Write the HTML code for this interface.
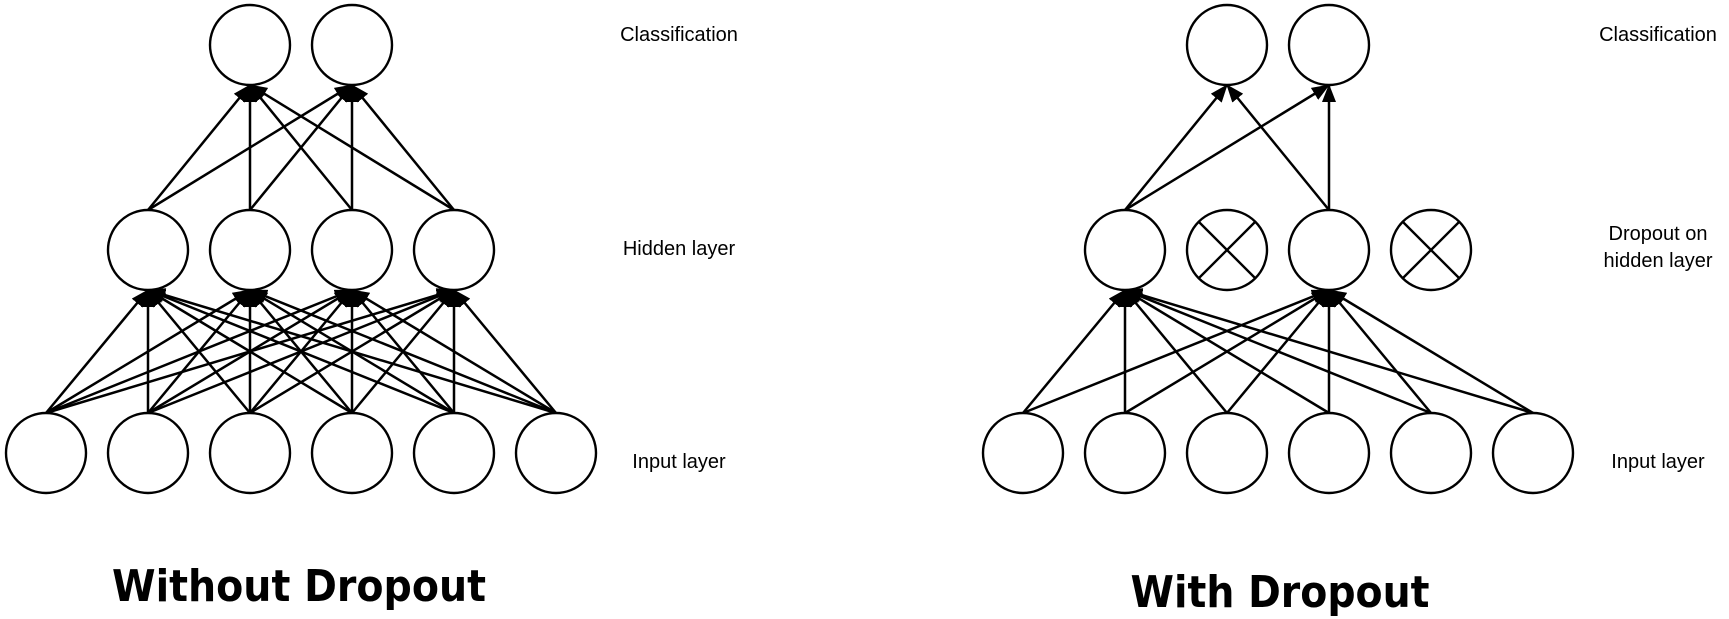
<!DOCTYPE html>
<html><head><meta charset="utf-8"><style>
html,body{margin:0;padding:0;background:#fff;}
svg{display:block;}
</style></head><body>
<svg width="1729" height="619" viewBox="0 0 1729 619" xmlns="http://www.w3.org/2000/svg">
<defs>
<marker id="a" markerWidth="18" markerHeight="14" refX="17" refY="7" orient="auto" markerUnits="userSpaceOnUse">
<path d="M0,0 L18,7 L0,14 Z" fill="#000"/>
</marker>
</defs>
<g id="L" stroke="#000" stroke-width="2.5" fill="none" marker-end="url(#a)"></g>
<g id="C" stroke="#000" stroke-width="2.4" fill="#fff"></g>
<g font-family="Liberation Sans, sans-serif" font-size="20" text-anchor="middle" fill="#000">
<text x="679" y="41">Classification</text>
<text x="679" y="255">Hidden layer</text>
<text x="679" y="468">Input layer</text>
<text x="1658" y="41">Classification</text>
<text x="1658" y="240">Dropout on</text>
<text x="1658" y="267">hidden layer</text>
<text x="1658" y="468">Input layer</text>
</g>
<g font-family="DejaVu Sans, Liberation Sans, sans-serif" font-weight="bold" font-size="44" text-anchor="middle" fill="#000">
<text x="299" y="601" textLength="374" lengthAdjust="spacingAndGlyphs">Without Dropout</text>
<text x="1280" y="607" textLength="299" lengthAdjust="spacingAndGlyphs">With Dropout</text>
</g>
</svg>
<script>
(function(){
var NS="http://www.w3.org/2000/svg",L=document.getElementById('L'),C=document.getElementById('C');
var R=40,yi=453,yh=250,yo=45;
function line(x1,y1,x2,y2){var l=document.createElementNS(NS,'line');l.setAttribute('x1',x1);l.setAttribute('y1',y1);l.setAttribute('x2',x2);l.setAttribute('y2',y2);L.appendChild(l);}
function circ(x,y,cross){var c=document.createElementNS(NS,'circle');c.setAttribute('cx',x);c.setAttribute('cy',y);c.setAttribute('r',R);C.appendChild(c);
if(cross){var d=R*0.707;[[x-d,y-d,x+d,y+d],[x-d,y+d,x+d,y-d]].forEach(function(p){var l=document.createElementNS(NS,'line');l.setAttribute('x1',p[0]);l.setAttribute('y1',p[1]);l.setAttribute('x2',p[2]);l.setAttribute('y2',p[3]);C.appendChild(l);});}}
var li=[46,148,250,352,454,556],lh=[148,250,352,454],lo=[250,352];
li.forEach(function(a){lh.forEach(function(b){line(a,yi-R,b,yh+R);});});
lh.forEach(function(a){lo.forEach(function(b){line(a,yh-R,b,yo+R);});});
li.forEach(function(x){circ(x,yi);});lh.forEach(function(x){circ(x,yh);});lo.forEach(function(x){circ(x,yo);});
var ri=[1023,1125,1227,1329,1431,1533],rh=[1125,1227,1329,1431],ro=[1227,1329],act=[1125,1329];
ri.forEach(function(a){act.forEach(function(b){line(a,yi-R,b,yh+R);});});
act.forEach(function(a){ro.forEach(function(b){line(a,yh-R,b,yo+R);});});
ri.forEach(function(x){circ(x,yi);});rh.forEach(function(x,i){circ(x,yh,i%2==1);});ro.forEach(function(x){circ(x,yo);});
})();
</script>
</body></html>
